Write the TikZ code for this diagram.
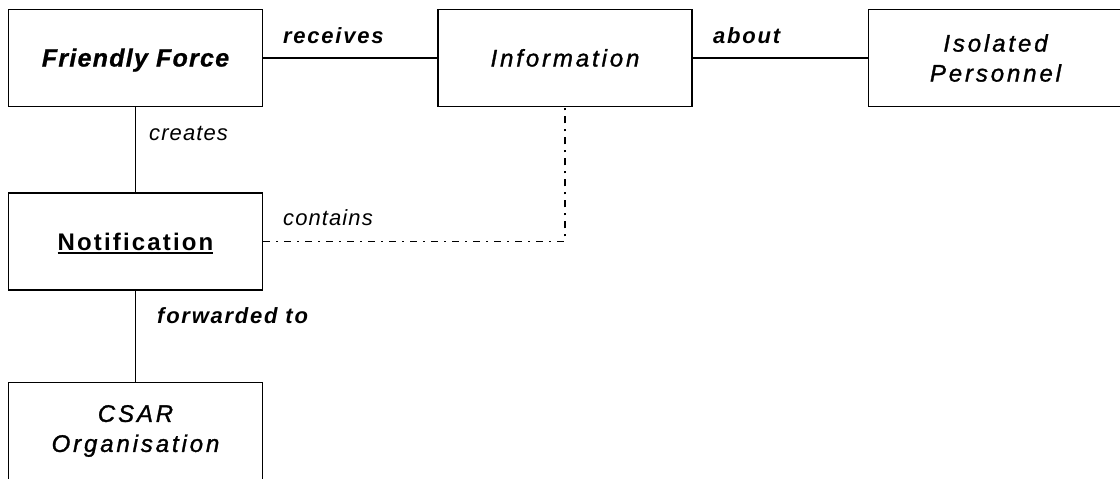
\documentclass[tikz,border=0pt]{standalone}
\usepackage{fontspec}
\setmainfont{Liberation Sans}
\newfontfamily\entityfont[LetterSpace=12,FakeBold=1.2]{Liberation Sans}
\newfontfamily\strongfont[LetterSpace=5,FakeBold=0.8]{Liberation Sans}
\newfontfamily\relfont[LetterSpace=8]{Liberation Sans}
\newfontfamily\lightfont[LetterSpace=5]{Liberation Sans}
\newfontfamily\notefont[LetterSpace=9]{Liberation Sans}
% thick underline for the key entity
\newcommand\thickul[1]{\setbox0\hbox{#1}\rlap{\raisebox{-4pt}{\rule{\wd0}{2pt}}}\box0}
\tikzset{
  entity/.style={draw, line width=1.5pt, minimum width=254pt, minimum height=97pt,
    inner sep=0pt, align=center,
    font=\entityfont\itshape\fontsize{24}{30}\selectfont},
  oneline/.style={text height=17pt, text depth=0pt},
  link/.style={line width=1.5pt},
  dashdot/.style={line width=1.7pt, dash pattern=on 7pt off 6pt on 2pt off 6pt},
  relbold/.style={anchor=base west, inner sep=0pt,
    font=\relfont\bfseries\itshape\fontsize{22}{26}\selectfont},
  rellight/.style={anchor=base west, inner sep=0pt,
    font=\lightfont\itshape\fontsize{22}{26}\selectfont},
}
\begin{document}
\begin{tikzpicture}[x=1pt, y=-1pt]
  \useasboundingbox (0,0) rectangle (1120,479);
  \clip (0,0) rectangle (1120,479);

  % entities
  \node[entity, oneline, font=\strongfont\bfseries\itshape\fontsize{25}{30}\selectfont]
    (ff) at (135.5,58) {Friendly Force};
  \node[entity, oneline] (info) at (565,58) {Information};
  \node[entity] (iso) at (995.5,58) {Isolated\\Personnel};
  \node[entity, oneline, font=\notefont\bfseries\fontsize{24}{30}\selectfont]
    (notif) at (135.5,241.5) {\thickul{Notification}};
  \node[entity] (csar) at (135.5,431) {CSAR\\Organisation};

  % relationships
  \draw[link] (ff.east) -- (info.west);
  \draw[link] (info.east) -- (iso.west);
  \draw[link] (ff.south) -- (notif.north);
  \draw[link] (notif.south) -- (csar.north);
  \draw[dashdot] (notif.east) -| (info.south);

  % relationship labels
  \node[relbold] (lrec) at (283,43) {receives};
  \node[relbold] (labt) at (713,43) {about};
  \node[rellight] (lcre) at (149,140) {creates};
  \node[rellight] (lcon) at (283,225) {contains};
  \node[relbold] (lfwd) at (157,323) {forwarded to};
\end{tikzpicture}
\end{document}
